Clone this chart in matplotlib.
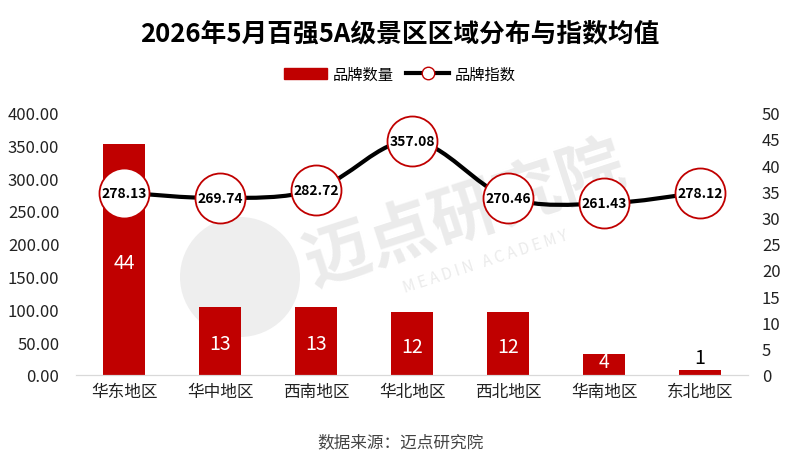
import matplotlib.pyplot as plt
import numpy as np
from matplotlib.path import Path
from matplotlib.patches import PathPatch, Circle, Patch
from matplotlib.lines import Line2D

plt.rcParams['font.family'] = ['Noto Sans CJK SC', 'DejaVu Sans']

# 数据
regions = ['华东地区', '华中地区', '西南地区', '华北地区', '西北地区', '华南地区', '东北地区']
brand_count = [44, 13, 13, 12, 12, 4, 1]
brand_index = [278.13, 269.74, 282.72, 357.08, 270.46, 261.43, 278.12]

red = '#C00000'
wm = '#EBEBEB'

fig = plt.figure(figsize=(8, 4.64), dpi=100)

# 水印（背景层，像素坐标）
bg = fig.add_axes([0, 0, 1, 1], zorder=-1)
bg.set_xlim(0, 800)
bg.set_ylim(464, 0)
bg.axis('off')
bg.add_patch(Circle((240, 278), 60, color='#EEEEEE', lw=0))
bg.text(465, 215, '迈点研究院', fontsize=48, color=wm, rotation=18,
        ha='center', va='center', fontweight='bold')
bg.text(485, 262, 'M E A D I N   A C A D E M Y', fontsize=11, color=wm, rotation=18,
        ha='center', va='center')

ax = fig.add_axes([0.095, 0.19, 0.84, 0.565])
ax2 = ax.twinx()
ax2.patch.set_visible(False)

x = np.arange(len(regions))

# 柱状图（右轴）
ax2.bar(x, brand_count, width=0.44, color=red, zorder=2)
for xi, v in zip(x, brand_count):
    if v >= 4:
        ax2.text(xi, v / 2 - 0.5 if v > 10 else v - 1.5, str(v), ha='center', va='center',
                 color='white', fontsize=14)
    else:
        ax2.text(xi, v + 0.3, str(v), ha='center', va='bottom', color='black', fontsize=14)

# 平滑折线（左轴），贝塞尔曲线连接数据点
ax.set_zorder(ax2.get_zorder() + 1)
ax.patch.set_visible(False)
pts = np.column_stack([x, brand_index])
verts = [tuple(pts[0])]
codes = [Path.MOVETO]
t = 0.17
for i in range(len(pts) - 1):
    p0 = pts[i - 1] if i > 0 else pts[i]
    p1, p2 = pts[i], pts[i + 1]
    p3 = pts[i + 2] if i + 2 < len(pts) else pts[i + 1]
    c1 = p1 + (p2 - p0) * t
    c2 = p2 - (p3 - p1) * t
    verts += [tuple(c1), tuple(c2), tuple(p2)]
    codes += [Path.CURVE4] * 3
ax.add_patch(PathPatch(Path(verts, codes), fill=False, lw=3, color='black', zorder=3))
ax.plot(x, brand_index, 'o', ms=36, mfc='white', mec=red, mew=1.3, zorder=4)
for xi, v in zip(x, brand_index):
    ax.text(xi, v, f'{v:.2f}', ha='center', va='center', fontsize=10,
            fontweight='bold', color='black', zorder=5)

ax.set_xlim(-0.5, len(regions) - 0.5)
ax.set_ylim(0, 400)
ax.set_yticks(np.arange(0, 401, 50))
ax.set_yticklabels([f'{v:.2f}' for v in np.arange(0, 401, 50)])
ax2.set_ylim(0, 50)
ax2.set_yticks(np.arange(0, 51, 5))
ax.set_xticks(x)
ax.set_xticklabels(regions)

for a in (ax, ax2):
    for s in ['top', 'left', 'right']:
        a.spines[s].set_visible(False)
    a.spines['bottom'].set_color('#D9D9D9')
    a.tick_params(length=0, labelsize=12, colors='#222222')
ax.tick_params(axis='y', pad=12)
ax.tick_params(axis='x', pad=6)
ax2.tick_params(axis='y', pad=10)

# 图例
handles = [Patch(color=red),
           Line2D([0], [0], color='black', lw=3, marker='o', ms=9, mfc='white', mec=red)]
fig.legend(handles, ['品牌数量', '品牌指数'], loc='center', bbox_to_anchor=(0.5, 0.838),
           ncol=2, frameon=False, fontsize=11, handlelength=2.8, columnspacing=0.8,
           handletextpad=0.4)

fig.suptitle('2026年5月百强5A级景区区域分布与指数均值', fontsize=18.5, fontweight='bold', y=0.955)
fig.text(0.5, 0.045, '数据来源：迈点研究院', ha='center', va='center', fontsize=12,
         color='#444444')

plt.savefig('out.png')
